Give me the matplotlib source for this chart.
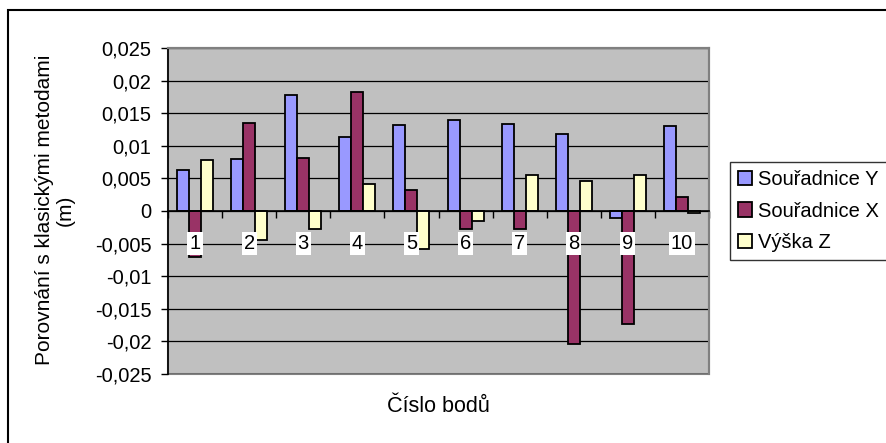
import matplotlib
matplotlib.use("Agg")
import matplotlib.pyplot as plt
from matplotlib.patches import Patch, Rectangle
import numpy as np

plt.rcParams["font.family"] = ["Liberation Sans", "DejaVu Sans"]

# data
points = ["1", "2", "3", "4", "5", "6", "7", "8", "9", "10"]
souradnice_y = [0.0063, 0.0080, 0.0178, 0.0113, 0.0132, 0.0140, 0.0134, 0.0118, -0.0010, 0.0130]
souradnice_x = [-0.0071, 0.0135, 0.0081, 0.0183, 0.0032, -0.0028, -0.0027, -0.0204, -0.0173, 0.0022]
vyska_z = [0.0078, -0.0045, -0.0027, 0.0042, -0.0058, -0.0015, 0.0055, 0.0046, 0.0055, -0.0003]
series_names = ["Souřadnice Y", "Souřadnice X", "Výška Z"]
y_ticks = [0.025, 0.02, 0.015, 0.01, 0.005, 0, -0.005, -0.01, -0.015, -0.02, -0.025]
y_tick_labels = ["0,025", "0,02", "0,015", "0,01", "0,005", "0",
                 "-0,005", "-0,01", "-0,015", "-0,02", "-0,025"]

colors = ["#9999FF", "#993366", "#FFFFCC"]
W, H = 886, 443
FS = 14.5

fig = plt.figure(figsize=(W / 100, H / 100), dpi=100)
fig.patch.set_facecolor("white")
ax = fig.add_axes([168 / W, 1 - 374 / H, (709 - 168) / W, (374 - 48) / H])
ax.set_facecolor("#C0C0C0")

x = np.arange(len(points))
bw = 0.222
for i, (vals, c) in enumerate(zip([souradnice_y, souradnice_x, vyska_z], colors)):
    ax.bar(x + (i - 1) * bw, vals, width=bw, color=c, edgecolor="black",
           linewidth=1.3, zorder=3)

ax.set_xlim(-0.5, len(points) - 0.5)
ax.set_ylim(-0.025, 0.025)
ax.set_yticks(y_ticks)
ax.set_yticklabels(y_tick_labels, fontsize=FS)
ax.yaxis.grid(True, color="black", linewidth=0.9, zorder=1)
ax.set_axisbelow(True)
ax.tick_params(axis="y", direction="out", length=5, width=1, color="black", pad=7)

# category axis sits on zero, ticks between groups
ax.spines["bottom"].set_position(("data", 0))
ax.spines["bottom"].set_zorder(4)
ax.spines["bottom"].set_linewidth(1.2)
ax.set_xticks(np.arange(-0.5, len(points)))
ax.set_xticklabels([])
ax.tick_params(axis="x", direction="out", length=5, width=1, color="black")
ax.spines["left"].set_linewidth(1.2)
for s in ["top", "right"]:
    ax.spines[s].set_color("#808080")
    ax.spines[s].set_linewidth(1.5)
ax.add_patch(Rectangle((0, 0), 1, 1, transform=ax.transAxes, fill=False,
                       edgecolor="#808080", linewidth=1.5, zorder=0.5, clip_on=False))

for xi, lab in zip(x, points):
    ax.text(xi, -0.005, lab, fontsize=FS, ha="center", va="center", zorder=5,
            bbox=dict(facecolor="white", edgecolor="none", pad=1.5))

fig.text(55 / W, 1 - 210 / H, "Porovnání s klasickými metodami\n(m)", rotation=90,
         ha="center", va="center", fontsize=15, multialignment="center", linespacing=1.15)
fig.text(438 / W, 1 - 407 / H, "Číslo bodů", ha="center", va="center", fontsize=15.5)

handles = [Patch(facecolor=c, edgecolor="black", linewidth=1.3) for c in colors]
leg = fig.legend(handles, series_names, loc="upper left",
                 bbox_to_anchor=(730 / W, 1 - 162 / H), fontsize=FS, frameon=True,
                 fancybox=False, borderaxespad=0, handlelength=0.7, handleheight=0.7,
                 handletextpad=0.3, labelspacing=0.62, borderpad=0.4)
leg.get_frame().set_edgecolor("black")
leg.get_frame().set_linewidth(1)

fig.add_artist(Rectangle((7.5 / W, -0.1), 2, 1 - 10.5 / H + 0.1, transform=fig.transFigure,
                         fill=False, edgecolor="black", linewidth=1.5))

fig.savefig("out.png", dpi=100)
